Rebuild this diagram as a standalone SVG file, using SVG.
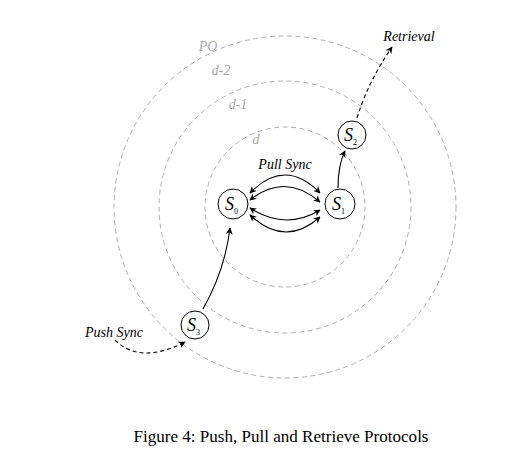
<svg xmlns="http://www.w3.org/2000/svg" width="532" height="457" viewBox="0 0 532 457">
<style>
.ring{fill:none;stroke:#b0b0b0;stroke-width:1;stroke-dasharray:5 3.5}
.rl{font-family:"Liberation Serif",serif;font-style:italic;font-size:14px;fill:#a8a8a8}
.node{fill:#fff;stroke:#000;stroke-width:1}
.nl{font-family:"Liberation Serif",serif;font-style:italic;font-size:18px;fill:#000}
.sub{font-style:normal;font-size:8px}
.arr{fill:none;stroke:#000;stroke-width:1.1}
.dash{stroke-dasharray:4 3}
.lbl{font-family:"Liberation Serif",serif;font-style:italic;font-size:14px;fill:#000}
.cap{font-family:"Liberation Serif",serif;font-size:16px;fill:#000}
</style>
<defs>
<marker id="ah" viewBox="0 0 10 10" refX="9" refY="5" markerWidth="7" markerHeight="7" orient="auto-start-reverse" markerUnits="userSpaceOnUse">
<path d="M0,0 L10,5 L0,10 L3,5 Z" fill="#000"/>
</marker>
</defs>
<g id="rings">
<circle class="ring" cx="285" cy="207" r="171"/>
<circle class="ring" cx="285" cy="207" r="126"/>
<circle class="ring" cx="285" cy="207" r="80"/>
<text class="rl" x="208" y="51" text-anchor="middle">PO</text>
<text class="rl" x="221" y="75" text-anchor="middle">d-2</text>
<text class="rl" x="238" y="109" text-anchor="middle">d-1</text>
<text class="rl" x="256" y="144" text-anchor="middle">d</text>
</g>
<g id="connectors">
<path class="arr" d="M250,193 Q285,157 320,193" marker-start="url(#ah)" marker-end="url(#ah)"/>
<path class="arr" d="M250,200 Q285,172 320,202" marker-start="url(#ah)" marker-end="url(#ah)"/>
<path class="arr" d="M250,208 Q285,231 320,210" marker-start="url(#ah)" marker-end="url(#ah)"/>
<path class="arr" d="M250,215 Q285,248 320,217" marker-start="url(#ah)" marker-end="url(#ah)"/>
<path class="arr" d="M338,188 Q338,165 345,151" marker-end="url(#ah)"/>
<path class="arr dash" d="M357,118 Q368,82 392,47" marker-end="url(#ah)"/>
<path class="arr" d="M203,309 Q225,270 230,228" marker-end="url(#ah)"/>
<path class="arr dash" d="M115,340 Q140,365 185,342" marker-end="url(#ah)"/>
<text class="lbl" x="285" y="169" text-anchor="middle">Pull Sync</text>
<text class="lbl" x="409" y="41" text-anchor="middle">Retrieval</text>
<text class="lbl" x="114" y="337" text-anchor="middle">Push Sync</text>
</g>
<g id="S0">
<circle class="node" cx="233" cy="204" r="15"/>
<text class="nl" x="225" y="210">S<tspan class="sub" dy="4">0</tspan></text>
</g>
<g id="S1">
<circle class="node" cx="340" cy="204" r="15"/>
<text class="nl" x="332" y="210">S<tspan class="sub" dy="4">1</tspan></text>
</g>
<g id="S2">
<circle class="node" cx="352" cy="135" r="14"/>
<text class="nl" x="344" y="141">S<tspan class="sub" dy="4">2</tspan></text>
</g>
<g id="S3">
<circle class="node" cx="195" cy="325" r="14"/>
<text class="nl" x="187" y="331">S<tspan class="sub" dy="4">3</tspan></text>
</g>
<text class="cap" x="281" y="442" text-anchor="middle" textLength="295" lengthAdjust="spacingAndGlyphs">Figure 4: Push, Pull and Retrieve Protocols</text>
</svg>
